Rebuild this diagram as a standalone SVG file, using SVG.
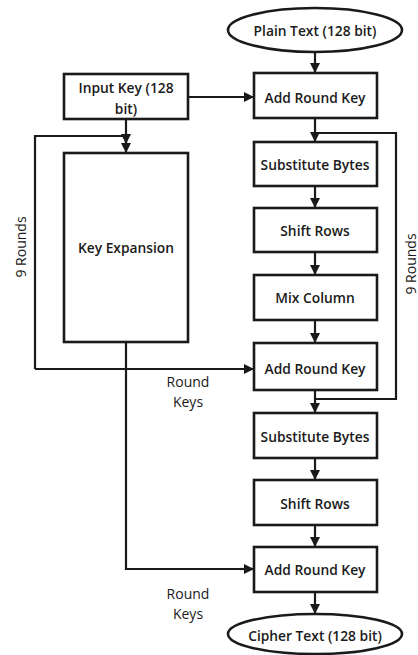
<svg xmlns="http://www.w3.org/2000/svg" width="418" height="655" viewBox="0 0 418 655">
<defs>
<marker id="ah" markerWidth="10" markerHeight="10" refX="10" refY="5" orient="auto" markerUnits="userSpaceOnUse">
<path d="M0,0 L10,5 L0,10 Z" fill="#1a1a1a"/>
</marker>
</defs>
<style>
.box{fill:#fff;stroke:#1a1a1a;stroke-width:2.6}
.t{font-family:"Open Sans","Liberation Sans",sans-serif;font-size:13.8px;font-weight:600;fill:#1a1a1a;text-anchor:middle;dominant-baseline:central}
.l{font-family:"Open Sans","Liberation Sans",sans-serif;font-size:14px;font-weight:500;fill:#1a1a1a;text-anchor:middle;dominant-baseline:central}
.c{fill:none;stroke:#1a1a1a;stroke-width:2.2}
.a{marker-end:url(#ah)}
</style>
<rect width="418" height="655" fill="#fff"/>
<g id="connectors">
<line class="c a" x1="315" y1="52" x2="315" y2="73"/>
<line class="c a" x1="188" y1="97" x2="254" y2="97"/>
<line class="c a" x1="126" y1="119" x2="126" y2="144"/>
<line class="c a" x1="126" y1="136" x2="126" y2="153"/>
<polyline class="c" points="126,136 35,136 35,369"/>
<line class="c a" x1="35" y1="369" x2="254" y2="369"/>
<line class="c a" x1="315" y1="118" x2="315" y2="142"/>
<polyline class="c" points="315,133 396,133 396,399 315,399"/>
<line class="c a" x1="315" y1="186" x2="315" y2="208"/>
<line class="c a" x1="315" y1="252" x2="315" y2="275"/>
<line class="c a" x1="315" y1="320" x2="315" y2="343"/>
<line class="c a" x1="315" y1="390" x2="315" y2="413"/>
<line class="c a" x1="315" y1="458" x2="315" y2="480"/>
<line class="c a" x1="315" y1="525" x2="315" y2="547"/>
<polyline class="c" points="126,342 126,569 244,569"/>
<line class="c a" x1="240" y1="569" x2="254" y2="569"/>
<line class="c a" x1="315" y1="592" x2="315" y2="614"/>
<text class="l" x="188" y="381">Round</text>
<text class="l" x="188" y="401">Keys</text>
<text class="l" x="188" y="593">Round</text>
<text class="l" x="188" y="613">Keys</text>
<text class="l" transform="translate(20,247) rotate(-90)" x="0" y="0">9 Rounds</text>
<text class="l" transform="translate(410,264) rotate(-90)" x="0" y="0">9 Rounds</text>
</g>
<g id="plain"><ellipse class="box" cx="315" cy="30" rx="87" ry="22"/><text class="t" x="315" y="30">Plain Text (128 bit)</text></g>
<g id="inputkey"><rect class="box" x="64" y="74" width="124" height="45"/><text class="t" x="126" y="87">Input Key (128</text><text class="t" x="126" y="108">bit)</text></g>
<g id="ark1"><rect class="box" x="254" y="73" width="123" height="45"/><text class="t" x="315" y="97">Add Round Key</text></g>
<g id="keyexp"><rect class="box" x="64" y="153" width="124" height="189"/><text class="t" x="126" y="247">Key Expansion</text></g>
<g id="sb1"><rect class="box" x="254" y="142" width="123" height="44"/><text class="t" x="315" y="164">Substitute Bytes</text></g>
<g id="sr1"><rect class="box" x="254" y="208" width="123" height="44"/><text class="t" x="315" y="230">Shift Rows</text></g>
<g id="mc"><rect class="box" x="254" y="275" width="123" height="45"/><text class="t" x="315" y="297">Mix Column</text></g>
<g id="ark2"><rect class="box" x="254" y="343" width="123" height="47"/><text class="t" x="315" y="368">Add Round Key</text></g>
<g id="sb2"><rect class="box" x="254" y="413" width="123" height="45"/><text class="t" x="315" y="436">Substitute Bytes</text></g>
<g id="sr2"><rect class="box" x="254" y="480" width="123" height="45"/><text class="t" x="315" y="503">Shift Rows</text></g>
<g id="ark3"><rect class="box" x="254" y="547" width="123" height="45"/><text class="t" x="315" y="569">Add Round Key</text></g>
<g id="cipher"><ellipse class="box" cx="315" cy="634" rx="87" ry="20"/><text class="t" x="315" y="635">Cipher Text (128 bit)</text></g>
</svg>
